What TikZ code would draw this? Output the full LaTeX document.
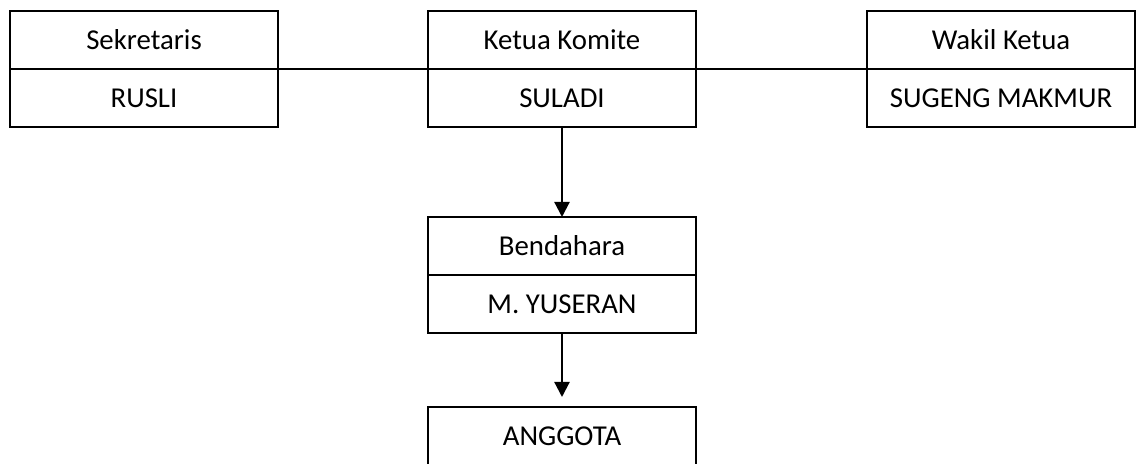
\documentclass[tikz,border=0pt]{standalone}
\usepackage{fontspec}
\setmainfont{Carlito}
\usetikzlibrary{positioning,arrows.meta}

\tikzset{
    cell/.style={draw, line width=1pt, minimum width=134pt, minimum height=29pt,
        inner sep=0pt, outer sep=0pt, font=\fontsize{14.4}{17}\selectfont},
    link/.style={line width=1pt},
    down/.style={line width=1.1pt, -{Triangle[length=7.5pt,width=7.5pt]}}
}

\begin{document}
\begin{tikzpicture}[x=0.5pt,y=-0.5pt]
    \useasboundingbox (0,0) rectangle (1137,464);

    % top row
    \node[cell] (ketuaT) at (562,40) {Ketua Komite};
    \node[cell, below=0pt of ketuaT] (ketuaN) {SULADI};
    \node[cell] (sekT) at (144,40) {Sekretaris};
    \node[cell, below=0pt of sekT] (sekN) {RUSLI};
    \node[cell] (wakT) at (1001,40) {Wakil Ketua};
    \node[cell, below=0pt of wakT] (wakN) {SUGENG MAKMUR};

    % middle
    \node[cell] (benT) at (562,246) {Bendahara};
    \node[cell, below=0pt of benT] (benN) {M. YUSERAN};

    % bottom
    \node[cell] (anggota) at (562,436) {ANGGOTA};
    \coordinate (tipA) at ([yshift=5pt]anggota.north);

    \draw[link] (sekT.south east) -- (wakT.south west);
    \draw[down] (ketuaN.south) -- (benT.north);
    \draw[down] (benN.south) -- (tipA);
\end{tikzpicture}
\end{document}
